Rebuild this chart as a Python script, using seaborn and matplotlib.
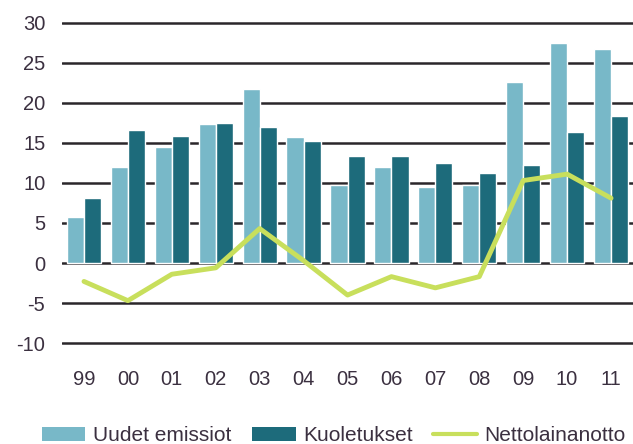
import matplotlib
matplotlib.use("Agg")
import matplotlib.pyplot as plt
import seaborn as sns
import pandas as pd
import numpy as np
from matplotlib.patches import Patch
from matplotlib.lines import Line2D

years = ["99", "00", "01", "02", "03", "04", "05", "06", "07", "08", "09", "10", "11"]
uudet_emissiot = [5.8, 12.0, 14.5, 17.3, 21.7, 15.7, 9.8, 12.0, 9.5, 9.8, 22.6, 27.5, 26.7]
kuoletukset = [8.1, 16.6, 15.9, 17.5, 17.0, 15.2, 13.4, 13.4, 12.5, 11.2, 12.2, 16.3, 18.3]
nettolainanotto = [-2.3, -4.7, -1.4, -0.6, 4.3, 0.3, -4.0, -1.7, -3.1, -1.7, 10.3, 11.1, 8.1]

series_names = ["Uudet emissiot", "Kuoletukset"]
c_light = "#78b8c8"
c_dark = "#1d6b7b"
c_line = "#c8df5c"
text_color = "#3b3040"

df = pd.DataFrame({
    "vuosi": years * 2,
    "arvo": uudet_emissiot + kuoletukset,
    "sarja": [series_names[0]] * len(years) + [series_names[1]] * len(years),
})
df_line = pd.DataFrame({"vuosi": years, "arvo": nettolainanotto})

sns.set_style("white")
plt.rcParams["font.family"] = ["Liberation Sans", "DejaVu Sans"]
plt.rcParams["axes.unicode_minus"] = False

fig = plt.figure(figsize=(6.33, 4.44), dpi=100)
ax = fig.add_axes([0.098, 0.22, 0.902, 0.736])

for y in range(-10, 31, 5):
    ax.axhline(y, color="#2a262a", lw=1.8, zorder=0)

sns.barplot(data=df, x="vuosi", y="arvo", hue="sarja", order=years,
            hue_order=series_names, palette=[c_light, c_dark],
            width=0.78, gap=0, saturation=1, legend=False, ax=ax, zorder=2)
sns.pointplot(data=df_line, x="vuosi", y="arvo", order=years, color=c_line,
              markers="", linestyles="-", linewidth=3.5, ax=ax, zorder=3)

ax.set_ylim(-10.4, 30.4)
ax.set_xlim(-0.5, 12.5)
ax.set_yticks(range(-10, 31, 5))
ax.set_xlabel("")
ax.set_ylabel("")
for s in ax.spines.values():
    s.set_visible(False)
ax.tick_params(axis="both", length=0, labelsize=14.5, colors=text_color)
ax.tick_params(axis="x", pad=17)
ax.tick_params(axis="y", pad=12)

handles = [
    Patch(facecolor=c_light, edgecolor="none"),
    Patch(facecolor=c_dark, edgecolor="none"),
    Line2D([0], [0], color=c_line, lw=3),
]
fig.legend(handles, ["Uudet emissiot", "Kuoletukset", "Nettolainanotto"],
           loc="lower center", bbox_to_anchor=(0.527, -0.045), ncol=3, frameon=False,
           fontsize=15, labelcolor=text_color, handlelength=2.1, handleheight=0.7,
           columnspacing=1.0, handletextpad=0.35)

fig.savefig("out.png", dpi=100)
